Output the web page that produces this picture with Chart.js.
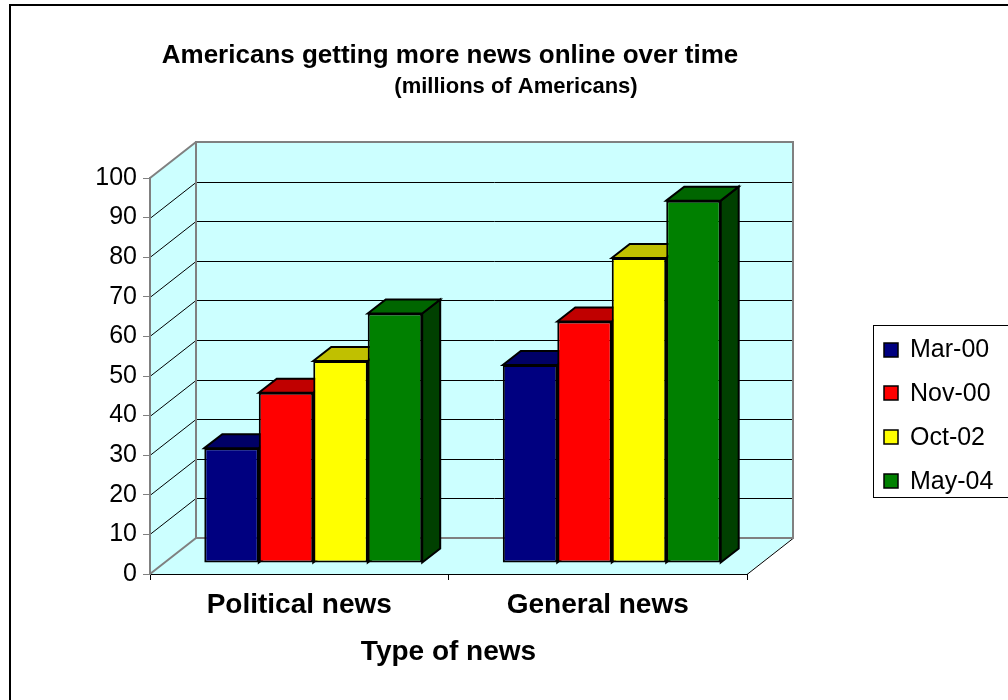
<!DOCTYPE html>
<html>
<head>
<meta charset="utf-8">
<script src="https://cdn.jsdelivr.net/npm/chart.js@4"></script>
<style>
  html, body { margin: 0; padding: 0; background: #fff; }
</style>
</head>
<body>
<canvas id="news-chart" width="1008" height="700"></canvas>
<script>
// data (millions of Americans)
const categories = ['Political news', 'General news'];
const seriesNames = ['Mar-00', 'Nov-00', 'Oct-02', 'May-04'];
const mar00 = [29, 50];
const nov00 = [43, 61];
const oct02 = [51, 77];
const may04 = [63, 91.5];
const yTicks = [0, 10, 20, 30, 40, 50, 60, 70, 80, 90, 100];

const frontColors = ['#000080', '#FF0000', '#FFFF00', '#008000'];
const topColors = ['#000066', '#C00000', '#C0C000', '#006600'];
const sideColors = ['#000040', '#800000', '#808000', '#004000'];

const FONT = '"Liberation Sans", Arial, sans-serif';

// 3d look: wall depth, where the bars sit in the depth, and bar depth
const WALL_DX = 46, WALL_DY = -36;
const SHIFT_DX = 14, SHIFT_DY = -11;
const BAR_DX = 18, BAR_DY = -14;

function poly(ctx, pts) {
    ctx.beginPath();
    ctx.moveTo(pts[0][0], pts[0][1]);
    for (let i = 1; i < pts.length; i++) ctx.lineTo(pts[i][0], pts[i][1]);
    ctx.closePath();
}

// walls, floor and gridlines behind everything
const wallsPlugin = {
    id: 'walls',
    beforeDraw(chart) {
        const ctx = chart.ctx;
        const a = chart.chartArea;
        const y = chart.scales.y;
        const L = Math.round(a.left), R = Math.round(a.right);
        const y0 = Math.round(y.getPixelForValue(0));
        const y100 = Math.round(y.getPixelForValue(100));

        ctx.save();
        ctx.fillStyle = '#CCFFFF';
        poly(ctx, [[L, y100], [L + WALL_DX, y100 + WALL_DY], [L + WALL_DX, y0 + WALL_DY], [L, y0]]);
        ctx.fill();
        ctx.fillRect(L + WALL_DX, y100 + WALL_DY, R - L, y0 - y100);
        poly(ctx, [[L, y0], [L + WALL_DX, y0 + WALL_DY], [R + WALL_DX, y0 + WALL_DY], [R, y0]]);
        ctx.fill();

        ctx.strokeStyle = '#000';
        ctx.lineWidth = 1;
        yTicks.forEach(v => {
            if (v === 0 || v === 100) return;
            const py = Math.round(y.getPixelForValue(v)) + 0.5;
            ctx.beginPath();
            ctx.moveTo(L, py);
            ctx.lineTo(L + WALL_DX, py + WALL_DY);
            ctx.lineTo(R + WALL_DX, py + WALL_DY);
            ctx.stroke();
        });

        // floor right edge
        ctx.beginPath();
        ctx.moveTo(R, y0 + 0.5);
        ctx.lineTo(R + WALL_DX, y0 + WALL_DY + 0.5);
        ctx.stroke();

        // gray frame
        ctx.strokeStyle = '#808080';
        ctx.lineWidth = 2;
        ctx.strokeRect(L + WALL_DX, y100 + WALL_DY, R - L, y0 - y100);
        ctx.beginPath();
        ctx.moveTo(L, y100);
        ctx.lineTo(L + WALL_DX, y100 + WALL_DY);
        ctx.moveTo(L, y0);
        ctx.lineTo(L + WALL_DX, y0 + WALL_DY);
        ctx.stroke();
        ctx.restore();
    },
    // tops and sides of the bars, then fronts drawn by chart.js on top
    beforeDatasetsDraw(chart) {
        const ctx = chart.ctx;
        ctx.save();
        ctx.translate(SHIFT_DX, SHIFT_DY);
        ctx.strokeStyle = '#000';
        ctx.lineWidth = 2;
        ctx.lineJoin = 'miter';
        chart.data.datasets.forEach((ds, di) => {
            const meta = chart.getDatasetMeta(di);
            meta.data.forEach(bar => {
                const { x, y, base, width } = bar.getProps(['x', 'y', 'base', 'width'], true);
                const l = x - width / 2, r = x + width / 2;
                ctx.fillStyle = sideColors[di];
                poly(ctx, [[r, y], [r + BAR_DX, y + BAR_DY], [r + BAR_DX, base + BAR_DY], [r, base]]);
                ctx.fill();
                ctx.stroke();
                ctx.fillStyle = topColors[di];
                poly(ctx, [[l, y], [l + BAR_DX, y + BAR_DY], [r + BAR_DX, y + BAR_DY], [r, y]]);
                ctx.fill();
                ctx.stroke();
            });
        });
    },
    afterDatasetsDraw(chart) {
        chart.ctx.restore();
    },
    afterDraw(chart) {
        const ctx = chart.ctx;
        ctx.save();
        // outer frame (only top and left are in the picture)
        ctx.strokeStyle = '#000';
        ctx.lineWidth = 2;
        ctx.beginPath();
        ctx.moveTo(10, 700);
        ctx.lineTo(10, 5);
        ctx.lineTo(1008, 5);
        ctx.stroke();

        ctx.fillStyle = '#000';
        ctx.textAlign = 'center';
        ctx.textBaseline = 'middle';
        ctx.font = 'bold 26px ' + FONT;
        ctx.fillText('Americans getting more news online over time', 450, 56);
        ctx.font = 'bold 22px ' + FONT;
        ctx.fillText('(millions of Americans)', 516, 87);

        // legend
        ctx.lineWidth = 1;
        ctx.strokeRect(873.5, 325.5, 160, 172);
        ctx.textAlign = 'left';
        ctx.font = '25px ' + FONT;
        chart.data.datasets.forEach((ds, i) => {
            const cy = 349.5 + i * 43.8;
            ctx.fillStyle = ds.backgroundColor;
            ctx.fillRect(884, Math.round(cy - 7), 14, 14);
            ctx.lineWidth = 1.5;
            ctx.strokeRect(884, Math.round(cy - 7), 14, 14);
            ctx.fillStyle = '#000';
            ctx.fillText(ds.label, 910, cy + 1);
        });
        ctx.restore();
    }
};

const seriesValues = [mar00, nov00, oct02, may04];
const datasets = seriesNames.map((name, i) => ({
    label: name,
    data: seriesValues[i],
    backgroundColor: frontColors[i],
    borderColor: '#000',
    borderWidth: 2,
    borderSkipped: false,
    barPercentage: 1,
    categoryPercentage: 0.73,
    clip: false
}));

new Chart(document.getElementById('news-chart'), {
    type: 'bar',
    data: { labels: categories, datasets },
    plugins: [wallsPlugin],
    options: {
        responsive: false,
        animation: false,
        events: [],
        layout: { padding: { left: 0, right: 261, top: 178, bottom: 0 } },
        plugins: {
            legend: { display: false },
            title: { display: false },
            tooltip: { enabled: false }
        },
        scales: {
            x: {
                grid: { drawOnChartArea: false, tickLength: 6, color: '#000' },
                border: { color: '#000', width: 1 },
                ticks: { color: '#000', padding: 8, font: { family: FONT, size: 28, weight: 'bold' } },
                title: {
                    display: true,
                    text: 'Type of news',
                    color: '#000',
                    font: { family: FONT, size: 28, weight: 'bold' },
                    padding: { top: 4, bottom: 31 }
                },
                afterFit(scale) { scale.height = 126; }
            },
            y: {
                min: 0,
                max: 100,
                ticks: { stepSize: 10, color: '#000', padding: 6, font: { family: FONT, size: 25 } },
                grid: { drawOnChartArea: false, tickLength: 7, color: '#808080' },
                border: { color: '#808080', width: 2 },
                afterFit(scale) { scale.width = 150; }
            }
        }
    }
});
</script>
</body>
</html>
